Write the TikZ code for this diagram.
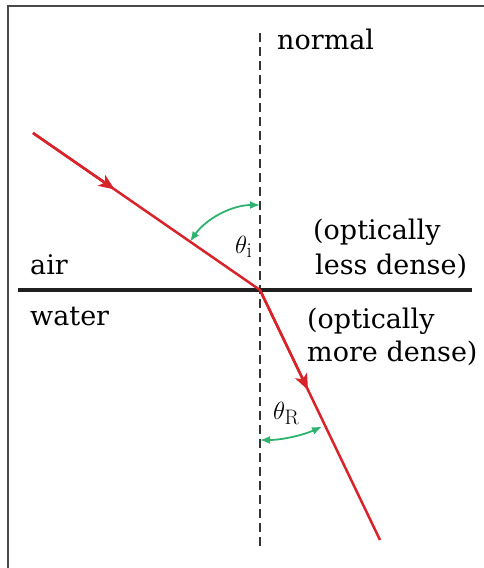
\documentclass[tikz,border=0pt]{standalone}
\usepackage{fontspec}
\newfontfamily\labelfont{DejaVu Serif}
\usetikzlibrary{arrows.meta,calc}
\definecolor{rayred}{HTML}{D8232A}
\definecolor{anggreen}{HTML}{2DB36F}
\definecolor{framegray}{HTML}{4A4A4A}
\definecolor{normgray}{HTML}{333333}
\begin{document}
\begin{tikzpicture}[x=1pt,y=1pt,
  lbl/.style={font=\labelfont\fontsize{27}{30}\selectfont, inner sep=0pt, anchor=base west},
  anglbl/.style={font=\fontsize{30}{32}\selectfont, inner sep=0pt, anchor=base west},
  ray/.style={rayred, line width=2.5pt},
  rayarrow/.style={ray, -{Stealth[length=16pt,width=13pt,inset=4pt]}},
  ang/.style={anggreen, line width=1.8pt, {Latex[length=10pt,width=8pt]}-{Latex[length=10pt,width=8pt]}},
  normline/.style={normgray, line width=1.8pt, dash pattern=on 9pt off 5pt},
  interface/.style={black!88, line width=3.5pt}
]
\useasboundingbox (0,0) rectangle (484,-568);
\fill[white] (0,0) rectangle (484,-568);
% frame (top and left edges)
\draw[framegray, line width=2.2pt] (8,-568) -- (8,-6) -- (484,-6);
% key points
\coordinate (O) at (260,-290);
\coordinate (Ntop) at (260,-33);
\coordinate (Nbot) at (260,-548);
\coordinate (IL) at (18,-290);
\coordinate (IR) at (472,-290);
\coordinate (S) at (33,-133);
\coordinate (E) at (380,-540);
% normal and interface
\draw[normline] (Ntop) -- (Nbot);
\draw[interface] (IL) -- (IR);
% rays
\draw[ray, line join=miter] (S) -- (O) -- (E);
\draw[rayarrow] (S) -- ($(S)!0.36!(O)$);
\draw[rayarrow] (O) -- ($(O)!0.40!(E)$);
% angle arcs
\draw[ang] ([shift={(90:85)}]O) arc[start angle=90, end angle=145.3, radius=85];
\draw[ang] ([shift={(270:150)}]O) arc[start angle=270, end angle=294.4, radius=150];
% labels
\node[lbl] (normal) at (277,-49) {normal};
\node[lbl] (air) at (30,-274) {air};
\node[lbl] (water) at (30,-325) {water};
\node[lbl] (less1) at (313,-239) {(optically};
\node[lbl] (less2) at (315,-274) {less dense)};
\node[lbl] (more1) at (307,-328) {(optically};
\node[lbl] (more2) at (307,-361) {more dense)};
\node[anglbl] (ti) at (235,-253) {$\theta_{\mathrm{i}}$};
\node[anglbl] (tr) at (273,-419) {$\theta_{\mathrm{R}}$};
\end{tikzpicture}
\end{document}
